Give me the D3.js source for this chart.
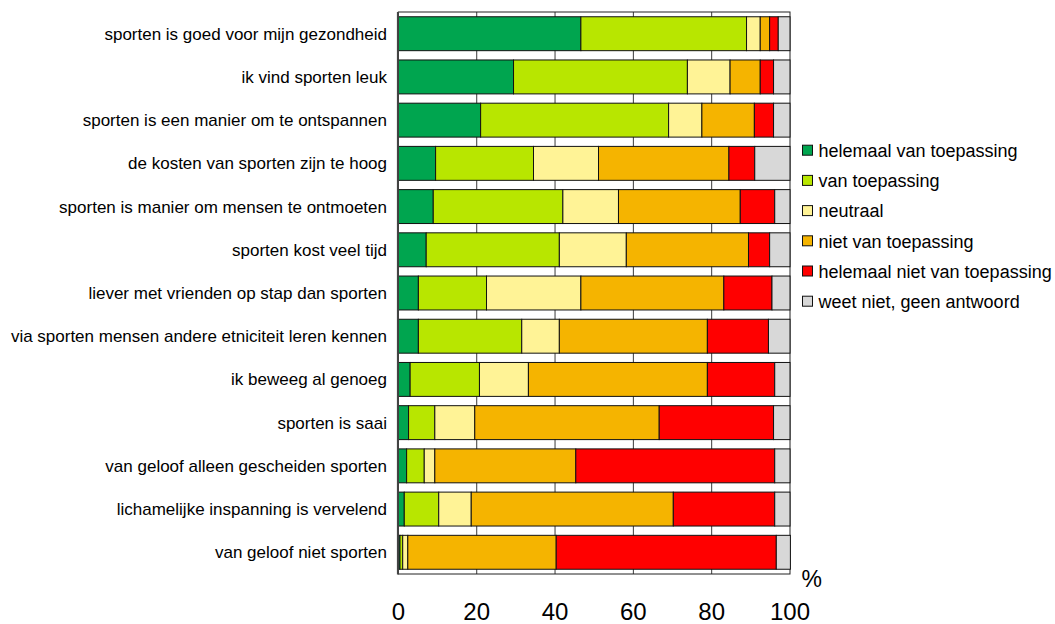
<!DOCTYPE html>
<html>
<head>
<meta charset="utf-8">
<script src="https://cdn.jsdelivr.net/npm/d3@7"></script>
<style>
  html, body { margin: 0; padding: 0; background: #fff; }
  svg { display: block; font-family: "Liberation Sans", Arial, sans-serif; }
</style>
</head>
<body>
<svg id="chart" width="1055" height="624"></svg>
<script>
const categories = [
  "sporten is goed voor mijn gezondheid",
  "ik vind sporten leuk",
  "sporten is een manier om te ontspannen",
  "de kosten van sporten zijn te hoog",
  "sporten is manier om mensen te ontmoeten",
  "sporten kost veel tijd",
  "liever met vrienden op stap dan sporten",
  "via sporten mensen andere etniciteit leren kennen",
  "ik beweeg al genoeg",
  "sporten is saai",
  "van geloof alleen gescheiden sporten",
  "lichamelijke inspanning is vervelend",
  "van geloof niet sporten"
];
const seriesNames = [
  "helemaal van toepassing",
  "van toepassing",
  "neutraal",
  "niet van toepassing",
  "helemaal niet van toepassing",
  "weet niet, geen antwoord"
];
const helemaalVan   = [46.6, 29.4, 21.0,  9.5,  8.9,  7.1,  5.1,  5.1,  3.0,  2.6,  2.1,  1.5,  0.4];
const vanToepassing = [42.3, 44.4, 48.0, 25.0, 33.1, 34.0, 17.4, 26.4, 17.7,  6.7,  4.5,  8.8,  0.7];
const neutraal      = [ 3.5, 10.9,  8.5, 16.6, 14.2, 17.1, 24.1,  9.6, 12.5, 10.2,  2.7,  8.3,  1.3];
const nietVan       = [ 2.4,  7.7, 13.4, 33.3, 31.1, 31.2, 36.5, 37.8, 45.7, 47.1, 36.0, 51.6, 37.9];
const helemaalNiet  = [ 2.2,  3.4,  4.9,  6.6,  8.8,  5.4, 12.3, 15.6, 17.2, 29.2, 50.8, 25.9, 56.2];
const weetNiet      = [ 3.0,  4.2,  4.2,  9.0,  3.9,  5.2,  4.6,  5.5,  3.9,  4.2,  3.9,  3.9,  3.6];
const xTicks = [0, 20, 40, 60, 80, 100];
const colors = ["#00A54F", "#B8E600", "#FFF396", "#F5B400", "#FF0000", "#D8D8D8"];

const seriesValues = [helemaalVan, vanToepassing, neutraal, nietVan, helemaalNiet, weetNiet];
const rows = categories.map((c, i) => {
  const r = { cat: c };
  seriesNames.forEach((s, j) => r[s] = seriesValues[j][i]);
  return r;
});
const stacked = d3.stack().keys(seriesNames)(rows);

const svg = d3.select("#chart");
const x = d3.scaleLinear().domain([0, 100]).range([398.4, 790]);
const y = d3.scaleBand().domain(categories).range([12, 574]).paddingInner(0.215).paddingOuter(0.11);
const color = d3.scaleOrdinal().domain(seriesNames).range(colors);

// gridlines (behind bars)
svg.append("g").selectAll("line").data(xTicks.filter(t => t > 0 && t < 100)).join("line")
  .attr("x1", d => x(d)).attr("x2", d => x(d))
  .attr("y1", 12).attr("y2", 574)
  .attr("stroke", "#3a3a3a").attr("stroke-width", 1);

// frame
svg.append("rect")
  .attr("x", x(0)).attr("y", 12)
  .attr("width", x(100) - x(0)).attr("height", 562)
  .attr("fill", "none").attr("stroke", "#222").attr("stroke-width", 1);

// bars
svg.append("g").selectAll("g").data(stacked).join("g")
  .attr("fill", d => color(d.key))
  .selectAll("rect").data(d => d).join("rect")
  .attr("x", d => x(d[0]))
  .attr("y", d => y(d.data.cat))
  .attr("width", d => Math.max(0, x(d[1]) - x(d[0])))
  .attr("height", y.bandwidth())
  .attr("stroke", "#111").attr("stroke-width", 1);

// left axis line
svg.append("line")
  .attr("x1", x(0) - 0.5).attr("x2", x(0) - 0.5)
  .attr("y1", 12).attr("y2", 574.5)
  .attr("stroke", "#444").attr("stroke-width", 2);

// category labels
svg.append("g").selectAll("text").data(categories).join("text")
  .attr("x", 387)
  .attr("y", d => y(d) + y.bandwidth() / 2)
  .attr("dy", "0.35em")
  .attr("text-anchor", "end")
  .attr("font-size", "17px")
  .attr("fill", "#000")
  .text(d => d);

// x tick labels
svg.append("g").selectAll("text").data(xTicks).join("text")
  .attr("x", d => x(d))
  .attr("y", 620)
  .attr("text-anchor", "middle")
  .attr("font-size", "24px")
  .attr("fill", "#000")
  .text(d => d);

svg.append("text")
  .attr("x", 801.5).attr("y", 587)
  .attr("font-size", "23px")
  .attr("fill", "#000")
  .text("%");

// legend
const lg = svg.append("g").selectAll("g").data(seriesNames).join("g")
  .attr("transform", (d, i) => `translate(802, ${150.7 + i * 30.2})`);
lg.append("rect")
  .attr("x", 0.5).attr("y", -5.5)
  .attr("width", 10).attr("height", 10)
  .attr("fill", d => color(d))
  .attr("stroke", "#111").attr("stroke-width", 1);
lg.append("text")
  .attr("x", 16.5).attr("y", 0)
  .attr("dy", "0.35em")
  .attr("font-size", "18px")
  .attr("fill", "#000")
  .text(d => d);
</script>
</body>
</html>
